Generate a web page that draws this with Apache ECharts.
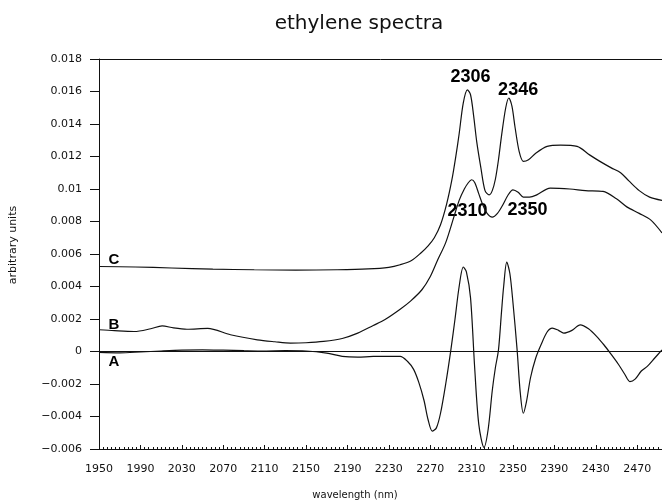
<!DOCTYPE html>
<html>
<head>
<meta charset="utf-8">
<script src="https://cdn.jsdelivr.net/npm/echarts@6/dist/echarts.min.js"></script>
<style>
    html, body {margin: 0; padding: 0; background: #fff;}
    #chart {width: 662px; height: 504px;}
</style>
</head>
<body>
<div id="chart"></div>
<script>
// curve A (difference spectrum)
var aX = [1950, 1970, 1990, 2010, 2030, 2050, 2070, 2090, 2110, 2130, 2150, 2170, 2185, 2200, 2215, 2230, 2241, 2248, 2254, 2259,
    2264, 2268, 2272, 2276, 2280, 2285, 2290, 2294, 2298, 2302, 2305, 2309, 2313, 2317, 2322, 2326, 2330, 2333, 2336, 2339,
    2341, 2344, 2347, 2350, 2354, 2357, 2360, 2363, 2367, 2372, 2377, 2383, 2388, 2394, 2399, 2407, 2415, 2423, 2431, 2438,
    2444, 2452, 2458, 2463, 2468, 2474, 2480, 2487, 2494];
var aY = [-0.00005, -0.00008, -0.00003, 0.00003, 0.00008, 0.0001, 0.00008, 0.00005, 0.00003, 0.00005, 0.00003, -0.0001, -0.0003, -0.00035, -0.0003, -0.0003, -0.0003, -0.0006, -0.0011, -0.0019,
    -0.0030, -0.0042, -0.0049, -0.0047, -0.0038, -0.0020, 0.0001, 0.0020, 0.0040, 0.0052, 0.0049, 0.0033, -0.0010, -0.0045, -0.0059, -0.0048, -0.0024, -0.0010, 0.0001, 0.0025,
    0.0040, 0.0055, 0.0048, 0.0030, 0.0001, -0.0025, -0.0038, -0.0031, -0.0016, -0.0004, 0.0004, 0.0012, 0.00144, 0.0013, 0.00113, 0.0013, 0.00164, 0.0014, 0.00092, 0.0004,
    -0.0001, -0.0008, -0.0014, -0.00185, -0.0017, -0.0012, -0.0009, -0.0004, 0.0001];

// curve B
var bX = [1950, 1965, 1984, 2000, 2011, 2022, 2035, 2055, 2077, 2103, 2120, 2135, 2150, 2167, 2185, 2200, 2215, 2226, 2241, 2251,
    2262, 2270, 2277, 2285, 2293, 2298, 2303, 2307, 2310, 2313, 2317, 2321, 2325, 2330, 2335, 2340, 2345, 2350, 2355, 2360,
    2366, 2373, 2386, 2405, 2420, 2437, 2450, 2460, 2472, 2483, 2494];
var bY = [0.00134, 0.00128, 0.00123, 0.0014, 0.00158, 0.00145, 0.00137, 0.00142, 0.00103, 0.00072, 0.0006, 0.00052, 0.00054, 0.00062, 0.0008, 0.00113, 0.0016, 0.00195, 0.0026, 0.0031,
    0.0038, 0.0046, 0.0056, 0.0067, 0.0083, 0.0093, 0.0100, 0.0104, 0.01057, 0.0104, 0.0097, 0.0090, 0.0085, 0.00827, 0.0085, 0.0090, 0.0096, 0.00995, 0.0098, 0.0095,
    0.0095, 0.00964, 0.01005, 0.0100, 0.0099, 0.00985, 0.0094, 0.0089, 0.0085, 0.0081, 0.0073];

// curve C
var cX = [1950, 1985, 2020, 2060, 2100, 2140, 2180, 2210, 2230, 2241, 2252, 2261, 2268, 2274, 2280, 2286, 2291, 2295, 2298, 2302,
    2306, 2309, 2312, 2315, 2319, 2323, 2327, 2330, 2333, 2336, 2339, 2343, 2346, 2349, 2352, 2356, 2360, 2365, 2372, 2383,
    2396, 2412, 2424, 2434, 2445, 2454, 2462, 2472, 2482, 2494];
var cY = [0.00523, 0.0052, 0.00514, 0.00507, 0.00503, 0.00501, 0.00503, 0.00508, 0.00518, 0.00534, 0.0056, 0.00606, 0.0065, 0.0070, 0.0078, 0.0091, 0.01057, 0.0121, 0.0134, 0.0153,
    0.0161, 0.0158, 0.0145, 0.0129, 0.0113, 0.0099, 0.00964, 0.0099, 0.0106, 0.0118, 0.0133, 0.0150, 0.0156, 0.0151, 0.0138, 0.0123, 0.0117, 0.0118, 0.0122, 0.01262,
    0.0127, 0.01262, 0.0121, 0.0117, 0.0113, 0.0110, 0.0105, 0.0099, 0.0095, 0.0093];

// peak / curve labels
var noteText = ['2306', '2346', '2310', '2350', 'C', 'B', 'A'];
var noteX = [2309, 2355, 2306, 2364, 1964.5, 1964.5, 1964.5];
var noteY = [0.0169, 0.0161, 0.00862, 0.00868, 0.00564, 0.00164, -0.00066];
var noteSize = [18, 18, 18, 18, 15, 15, 15];

var yTickLabels = ['\u22120.006', '\u22120.004', '\u22120.002', '0', '0.002', '0.004', '0.006',
    '0.008', '0.01', '0.012', '0.014', '0.016', '0.018'];

function zip(xs, ys) {
    return xs.map(function (x, i) {
        return [x, ys[i]];
    });
}

var lineColor = '#111';
var tickFont = 'DejaVu Sans';

var chart = echarts.init(document.getElementById('chart'));
var option = {
    animation: false,
    backgroundColor: '#fff',
    graphic: [
        {
            type: 'text', x: 359, y: 24,
            style: {text: 'ethylene spectra', font: '20px "DejaVu Sans"', fill: lineColor, align: 'center', verticalAlign: 'middle'}
        },
        {
            type: 'text', x: 355, y: 495,
            style: {text: 'wavelength (nm)', font: '10px "DejaVu Sans"', fill: lineColor, align: 'center', verticalAlign: 'middle'}
        }
    ],
    grid: {left: 97, right: 0, top: 59, bottom: 55, containLabel: false},
    xAxis: [
        {
            type: 'value',
            min: 1950,
            max: 2494,
            interval: 40,
            axisLine: {show: true, onZero: false, lineStyle: {color: lineColor, width: 1}},
            axisTick: {show: true, inside: true, length: 4, lineStyle: {color: lineColor}},
            minorTick: {show: true, splitNumber: 10, length: 2, lineStyle: {color: lineColor}},
            splitLine: {show: false},
            axisLabel: {
                color: lineColor, fontFamily: tickFont, fontSize: 11, margin: 15,
                showMaxLabel: false,
                formatter: function (v) {
                    return String(v);
                }
            }
        },
        {
            type: 'value',
            position: 'top',
            min: 1950,
            max: 2494,
            axisLine: {show: true, onZero: false, lineStyle: {color: lineColor, width: 1}},
            axisTick: {show: false},
            axisLabel: {show: false},
            splitLine: {show: false}
        }
    ],
    yAxis: {
        type: 'value',
        min: -0.006,
        max: 0.018,
        interval: 0.002,
        name: 'arbitrary units',
        nameLocation: 'middle',
        nameGap: 80,
        nameTextStyle: {color: lineColor, fontFamily: tickFont, fontSize: 11, padding: [0, 0, 0, 18]},
        axisLine: {show: true, onZero: false, lineStyle: {color: lineColor, width: 1}},
        axisTick: {show: true, length: 9, lineStyle: {color: lineColor}},
        splitLine: {show: false},
        axisLabel: {
            color: lineColor, fontFamily: tickFont, fontSize: 11, margin: 17,
            formatter: function (v, i) {
                return yTickLabels[i];
            }
        }
    },
    series: [
        {
            name: 'A',
            type: 'line',
            data: zip(aX, aY),
            smooth: 0.3,
            showSymbol: false,
            lineStyle: {color: lineColor, width: 1.2},
            markLine: {
                silent: true,
                symbol: 'none',
                label: {show: false},
                lineStyle: {color: lineColor, width: 1, type: 'solid'},
                data: [{yAxis: 0}]
            }
        },
        {
            name: 'B',
            type: 'line',
            data: zip(bX, bY),
            smooth: 0.3,
            showSymbol: false,
            lineStyle: {color: lineColor, width: 1.2}
        },
        {
            name: 'C',
            type: 'line',
            data: zip(cX, cY),
            smooth: 0.3,
            showSymbol: false,
            lineStyle: {color: lineColor, width: 1.2}
        },
        {
            name: 'notes',
            type: 'scatter',
            symbolSize: 0,
            silent: true,
            itemStyle: {opacity: 1},
            data: noteText.map(function (t, i) {
                return {
                    value: [noteX[i], noteY[i]],
                    label: {
                        show: true, position: 'inside', formatter: t,
                        fontFamily: 'Liberation Sans', fontWeight: 'bold', fontSize: noteSize[i],
                        color: '#000', opacity: 1, align: 'center', verticalAlign: 'middle'
                    }
                };
            })
        }
    ]
};
chart.setOption(option);
</script>
</body>
</html>
